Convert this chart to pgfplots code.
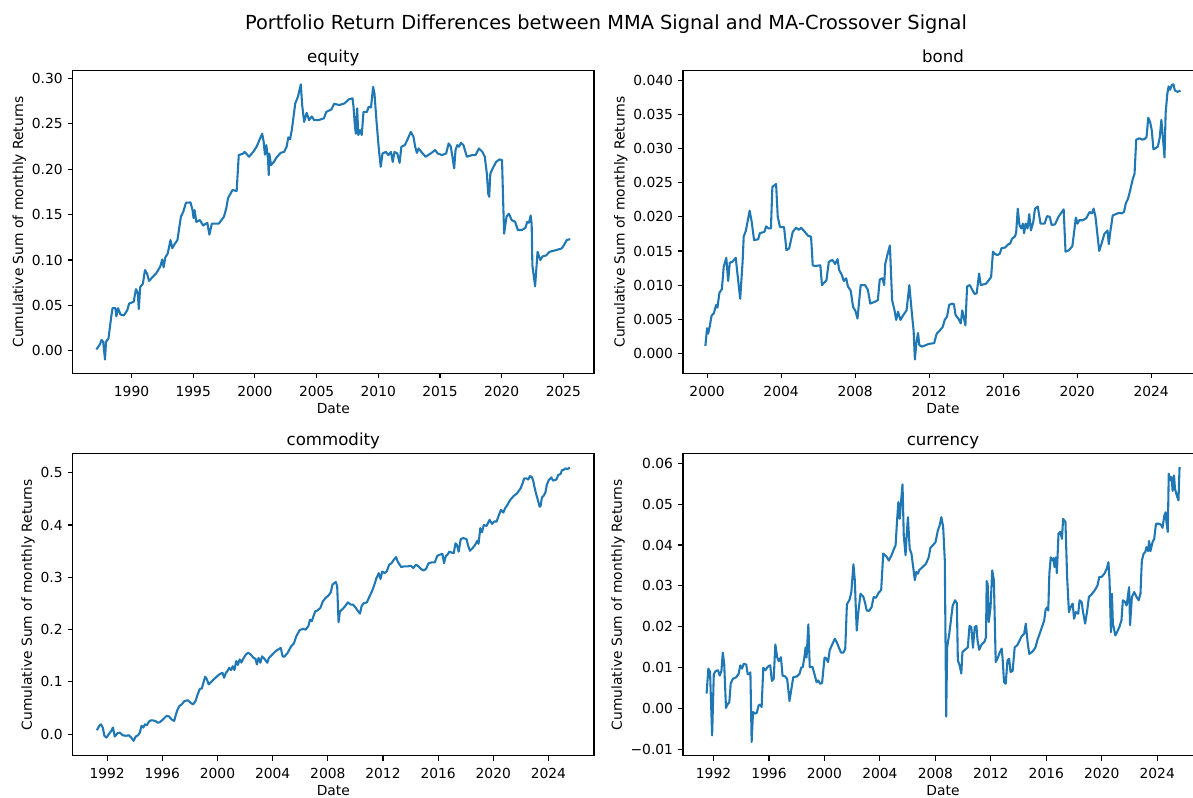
\documentclass[border=0pt]{standalone}
\usepackage{fontspec}
\setmainfont{DejaVu Sans}
\usepackage{pgfplots}
\usepackage{pgfplotstable}
\pgfplotsset{compat=1.18}
\definecolor{mplblue}{HTML}{1F77B4}

% ---------- data: cumulative sum of monthly return differences ----------
\pgfplotstableread{
year value
1987.15 0.0015
1987.43 0.007
1987.57 0.012
1987.70 0.010
1987.85 -0.0095
1987.93 0.010
1988.13 0.0136
1988.35 0.037
1988.46 0.047
1988.69 0.047
1988.77 0.038
1988.91 0.047
1989.10 0.040
1989.38 0.039
1989.66 0.045
1989.80 0.052
1990.17 0.054
1990.36 0.068
1990.50 0.064
1990.59 0.046
1990.70 0.070
1990.92 0.074
1991.09 0.089
1991.26 0.085
1991.42 0.077
1991.62 0.080
1991.98 0.085
1992.32 0.0925
1992.49 0.1006
1992.60 0.092
1992.74 0.103
1992.93 0.107
1993.16 0.122
1993.30 0.113
1993.49 0.1175
1993.72 0.122
1994.00 0.1476
1994.19 0.153
1994.41 0.163
1994.78 0.1634
1994.94 0.155
1995.03 0.146
1995.11 0.155
1995.25 0.142
1995.53 0.144
1995.81 0.138
1996.14 0.141
1996.31 0.128
1996.51 0.140
1997.07 0.140
1997.49 0.1476
1997.68 0.157
1997.82 0.168
1998.18 0.177
1998.52 0.176
1998.69 0.2155
1999.02 0.217
1999.16 0.219
1999.30 0.217
1999.53 0.2137
1999.86 0.219
2000.14 0.2247
2000.42 0.234
2000.59 0.239
2000.70 0.231
2000.81 0.216
2000.92 0.2265
2001.06 0.212
2001.12 0.1935
2001.17 0.217
2001.31 0.2045
2001.54 0.208
2001.76 0.213
2002.09 0.218
2002.37 0.219
2002.57 0.2247
2002.71 0.235
2002.85 0.233
2002.99 0.243
2003.27 0.2724
2003.49 0.280
2003.72 0.2933
2003.83 0.2705
2003.99 0.252
2004.19 0.262
2004.39 0.254
2004.61 0.258
2004.80 0.254
2005.17 0.254
2005.59 0.256
2005.78 0.263
2006.20 0.2658
2006.42 0.272
2006.84 0.2706
2007.26 0.2724
2007.63 0.277
2007.91 0.278
2007.99 0.269
2008.10 0.2485
2008.18 0.239
2008.29 0.267
2008.38 0.2376
2008.52 0.243
2008.66 0.2376
2008.80 0.263
2009.08 0.263
2009.22 0.2687
2009.41 0.268
2009.58 0.2907
2009.69 0.2834
2009.86 0.252
2010.05 0.221
2010.20 0.2026
2010.34 0.2173
2010.61 0.219
2010.81 0.2155
2011.03 0.219
2011.17 0.208
2011.31 0.219
2011.54 0.2173
2011.73 0.207
2011.87 0.2247
2012.15 0.2265
2012.37 0.2327
2012.63 0.241
2012.85 0.2357
2012.99 0.2247
2013.13 0.218
2013.27 0.2228
2013.49 0.219
2013.83 0.2137
2014.25 0.2173
2014.61 0.221
2014.81 0.2173
2015.17 0.2155
2015.50 0.2173
2015.70 0.2283
2015.87 0.225
2016.01 0.2137
2016.15 0.2008
2016.26 0.221
2016.40 0.2265
2016.54 0.2247
2016.70 0.229
2016.90 0.2265
2017.18 0.2137
2017.60 0.2155
2017.88 0.2155
2018.16 0.2228
2018.44 0.219
2018.63 0.2137
2018.80 0.195
2018.91 0.173
2018.99 0.1696
2019.08 0.195
2019.27 0.2008
2019.55 0.208
2019.83 0.2107
2020.03 0.210
2020.11 0.1696
2020.20 0.129
2020.39 0.1476
2020.59 0.151
2020.81 0.144
2021.09 0.142
2021.31 0.133
2021.65 0.133
2021.93 0.1355
2022.07 0.142
2022.21 0.141
2022.35 0.149
2022.43 0.140
2022.49 0.094
2022.71 0.071
2022.91 0.109
2023.13 0.100
2023.32 0.104
2023.60 0.105
2023.88 0.109
2024.44 0.111
2024.86 0.1127
2025.05 0.1164
2025.28 0.122
2025.56 0.123
}\equitydata

\pgfplotstableread{
year value
1999.91 0.0011
2000.00 0.0037
2000.06 0.0029
2000.15 0.0040
2000.24 0.0055
2000.37 0.0059
2000.49 0.0071
2000.56 0.0067
2000.67 0.0089
2000.80 0.0094
2000.90 0.0127
2001.04 0.0140
2001.14 0.0106
2001.23 0.0133
2001.36 0.0134
2001.55 0.0140
2001.64 0.0117
2001.79 0.0080
2001.92 0.0134
2001.98 0.0171
2002.10 0.0180
2002.30 0.0209
2002.41 0.0193
2002.54 0.0166
2002.76 0.0167
2002.85 0.0176
2003.10 0.0178
2003.19 0.0186
2003.32 0.0183
2003.45 0.0183
2003.53 0.0244
2003.64 0.0246
2003.73 0.0248
2003.82 0.0200
2003.94 0.0185
2004.16 0.0185
2004.29 0.0151
2004.44 0.0154
2004.63 0.0178
2004.81 0.0184
2004.96 0.0181
2005.09 0.0184
2005.28 0.0178
2005.47 0.0172
2005.62 0.0171
2005.71 0.0129
2005.84 0.0128
2006.12 0.0129
2006.21 0.0100
2006.45 0.0107
2006.58 0.0134
2006.77 0.0137
2006.92 0.0131
2007.05 0.0138
2007.14 0.0122
2007.28 0.0115
2007.39 0.0106
2007.52 0.0110
2007.61 0.0098
2007.76 0.0092
2007.89 0.0068
2008.02 0.0062
2008.13 0.0051
2008.30 0.0100
2008.54 0.0100
2008.69 0.0093
2008.82 0.0073
2009.10 0.0076
2009.23 0.0078
2009.33 0.0108
2009.48 0.0110
2009.57 0.0100
2009.63 0.0131
2009.76 0.0146
2009.88 0.0158
2010.00 0.0078
2010.13 0.0063
2010.22 0.0049
2010.32 0.0061
2010.45 0.0049
2010.60 0.0056
2010.78 0.0063
2010.93 0.0100
2011.06 0.0061
2011.16 0.0034
2011.23 -0.0009
2011.31 0.0015
2011.40 0.0030
2011.47 0.0012
2011.62 0.0010
2011.81 0.0012
2011.99 0.0014
2012.27 0.0015
2012.41 0.0029
2012.56 0.0033
2012.74 0.0039
2012.84 0.0049
2012.97 0.0054
2013.08 0.0071
2013.25 0.0073
2013.34 0.0072
2013.43 0.0056
2013.58 0.0051
2013.71 0.0044
2013.79 0.0063
2013.90 0.0049
2013.96 0.0041
2014.05 0.0098
2014.20 0.0100
2014.33 0.0093
2014.46 0.0087
2014.57 0.0088
2014.70 0.0117
2014.79 0.0100
2015.07 0.0102
2015.22 0.0107
2015.35 0.0112
2015.45 0.0149
2015.54 0.0146
2015.69 0.0144
2015.82 0.0146
2015.91 0.0154
2016.10 0.0155
2016.29 0.0160
2016.38 0.0161
2016.48 0.0168
2016.63 0.0171
2016.70 0.0176
2016.79 0.0212
2016.88 0.0188
2016.98 0.0183
2017.07 0.0190
2017.13 0.0176
2017.22 0.0190
2017.32 0.0183
2017.41 0.0204
2017.50 0.0180
2017.63 0.0193
2017.72 0.0212
2017.87 0.0215
2018.02 0.0190
2018.24 0.0190
2018.37 0.0201
2018.52 0.0200
2018.62 0.0188
2018.80 0.0189
2018.99 0.0200
2019.27 0.0211
2019.37 0.0149
2019.55 0.0151
2019.74 0.0157
2019.93 0.0199
2020.02 0.0190
2020.11 0.0195
2020.30 0.0195
2020.49 0.0198
2020.67 0.0207
2020.80 0.0205
2020.89 0.0212
2020.99 0.0200
2021.19 0.0150
2021.32 0.0161
2021.47 0.0175
2021.64 0.0180
2021.71 0.0160
2021.79 0.0178
2021.92 0.0202
2022.09 0.0204
2022.29 0.0206
2022.39 0.0205
2022.53 0.0207
2022.63 0.0220
2022.74 0.0226
2022.82 0.0234
2022.91 0.0244
2023.00 0.0255
2023.10 0.0263
2023.19 0.0313
2023.37 0.0315
2023.52 0.0313
2023.65 0.0314
2023.75 0.0317
2023.84 0.0345
2023.94 0.0339
2024.03 0.0327
2024.12 0.0299
2024.21 0.0300
2024.36 0.0303
2024.46 0.0316
2024.55 0.0342
2024.63 0.0317
2024.72 0.0287
2024.78 0.0352
2024.87 0.0380
2024.94 0.0391
2025.02 0.0386
2025.11 0.0393
2025.20 0.0394
2025.28 0.0385
2025.43 0.0383
2025.58 0.0385
}\bonddata

\pgfplotstableread{
year value
1991.25 0.0076
1991.43 0.016
1991.55 0.019
1991.68 0.0127
1991.80 -0.003
1991.95 -0.0064
1992.12 0.000
1992.30 0.0064
1992.42 0.0127
1992.55 -0.0045
1992.75 0.002
1992.92 0.003
1993.12 -0.002
1993.37 -0.003
1993.57 -0.002
1993.74 -0.0064
1993.92 -0.0127
1994.07 -0.0045
1994.24 -0.002
1994.37 0.003
1994.49 0.016
1994.62 0.0127
1994.74 0.019
1994.87 0.017
1995.07 0.0254
1995.24 0.0267
1995.49 0.0254
1995.67 0.022
1995.82 0.023
1996.12 0.030
1996.31 0.035
1996.49 0.034
1996.66 0.0286
1996.86 0.0254
1996.99 0.038
1997.11 0.0476
1997.24 0.054
1997.41 0.057
1997.61 0.0635
1997.86 0.0648
1998.06 0.060
1998.23 0.057
1998.41 0.0635
1998.56 0.076
1998.73 0.087
1998.86 0.087
1998.98 0.0985
1999.11 0.110
1999.23 0.105
1999.36 0.0953
1999.61 0.1017
1999.86 0.108
2000.11 0.114
2000.36 0.1175
2000.48 0.108
2000.61 0.1175
2000.73 0.121
2000.86 0.127
2000.98 0.1226
2001.11 0.130
2001.23 0.1226
2001.36 0.140
2001.48 0.1325
2001.61 0.143
2001.73 0.137
2001.86 0.144
2002.06 0.1525
2002.23 0.1557
2002.41 0.1525
2002.61 0.146
2002.76 0.144
2002.86 0.1334
2002.98 0.146
2003.11 0.1366
2003.23 0.149
2003.41 0.144
2003.61 0.1366
2003.73 0.146
2003.98 0.1525
2004.22 0.159
2004.47 0.163
2004.59 0.165
2004.72 0.149
2004.84 0.148
2005.09 0.1557
2005.34 0.168
2005.54 0.1735
2005.71 0.187
2005.96 0.199
2006.21 0.2014
2006.39 0.200
2006.59 0.2065
2006.71 0.219
2006.84 0.216
2006.96 0.2255
2007.09 0.235
2007.21 0.236
2007.46 0.2414
2007.64 0.254
2007.84 0.2605
2008.04 0.265
2008.21 0.271
2008.34 0.286
2008.58 0.291
2008.68 0.2827
2008.78 0.2141
2008.88 0.235
2009.03 0.238
2009.21 0.2433
2009.46 0.252
2009.66 0.2478
2009.83 0.2478
2010.03 0.2414
2010.20 0.235
2010.33 0.2306
2010.45 0.2446
2010.58 0.250
2010.83 0.252
2011.03 0.2637
2011.20 0.273
2011.38 0.286
2011.53 0.2986
2011.70 0.308
2011.82 0.2967
2011.95 0.311
2012.12 0.308
2012.27 0.311
2012.45 0.324
2012.62 0.327
2012.77 0.333
2012.95 0.3386
2013.07 0.330
2013.32 0.3196
2013.57 0.321
2013.82 0.321
2014.02 0.322
2014.20 0.3177
2014.39 0.324
2014.57 0.321
2014.77 0.3158
2014.94 0.313
2015.12 0.3158
2015.31 0.327
2015.56 0.3285
2015.76 0.3285
2015.94 0.341
2016.11 0.343
2016.31 0.345
2016.43 0.327
2016.56 0.341
2016.68 0.343
2016.81 0.349
2017.01 0.347
2017.13 0.346
2017.26 0.365
2017.36 0.362
2017.49 0.349
2017.64 0.373
2017.81 0.375
2018.06 0.373
2018.18 0.360
2018.31 0.3507
2018.51 0.356
2018.68 0.362
2018.85 0.370
2018.93 0.364
2019.06 0.394
2019.18 0.386
2019.31 0.400
2019.51 0.398
2019.73 0.4098
2019.91 0.402
2020.06 0.4066
2020.24 0.4066
2020.41 0.419
2020.56 0.429
2020.73 0.4238
2020.86 0.432
2020.98 0.4365
2021.23 0.448
2021.48 0.4555
2021.73 0.4606
2021.98 0.470
2022.11 0.4784
2022.24 0.489
2022.41 0.489
2022.54 0.487
2022.66 0.4936
2022.81 0.491
2022.91 0.483
2022.98 0.4733
2023.11 0.459
2023.23 0.448
2023.36 0.435
2023.43 0.436
2023.53 0.453
2023.63 0.455
2023.78 0.462
2023.88 0.4765
2024.03 0.486
2024.21 0.491
2024.33 0.4848
2024.58 0.487
2024.71 0.4955
2024.88 0.4975
2024.98 0.505
2025.08 0.505
2025.23 0.508
2025.40 0.507
2025.55 0.510
}\commoditydata

\pgfplotstableread{
year value
1991.50 0.0037
1991.63 0.0098
1991.75 0.0090
1991.90 -0.0065
1992.02 0.0084
1992.15 0.0092
1992.32 0.0094
1992.45 0.0081
1992.57 0.0092
1992.67 0.0137
1992.77 0.0110
1992.90 0.0002
1993.00 0.0010
1993.14 0.0016
1993.24 0.0061
1993.39 0.0073
1993.64 0.0077
1993.81 0.0085
1993.93 0.0106
1994.06 0.0098
1994.18 0.0110
1994.36 0.0108
1994.46 0.0085
1994.58 0.0084
1994.66 0.0089
1994.75 -0.0081
1994.85 -0.0008
1994.97 -0.0012
1995.12 -0.0010
1995.25 0.0008
1995.37 0.0010
1995.47 0.0004
1995.59 0.0100
1995.74 0.0094
1995.92 0.0103
1996.09 0.0106
1996.21 0.0068
1996.34 0.0073
1996.46 0.0157
1996.59 0.0126
1996.71 0.0116
1996.86 0.0126
1996.98 0.0081
1997.16 0.0079
1997.31 0.0073
1997.48 0.0019
1997.60 0.0045
1997.75 0.0077
1998.02 0.0079
1998.20 0.0085
1998.32 0.0100
1998.44 0.0102
1998.57 0.0130
1998.64 0.0150
1998.71 0.0125
1998.84 0.0206
1998.94 0.0102
1999.14 0.0102
1999.34 0.0077
1999.43 0.0065
1999.56 0.0069
1999.68 0.0061
1999.83 0.0063
1999.93 0.0098
2000.01 0.0125
2000.13 0.0123
2000.26 0.0114
2000.38 0.0143
2000.56 0.0157
2000.75 0.0171
2000.88 0.0163
2001.07 0.0147
2001.20 0.0137
2001.37 0.0137
2001.50 0.0147
2001.62 0.0255
2001.82 0.0267
2001.94 0.0285
2002.09 0.0353
2002.19 0.0314
2002.26 0.0248
2002.33 0.0191
2002.43 0.0232
2002.60 0.0281
2002.80 0.0274
2002.92 0.0260
2003.05 0.0240
2003.22 0.0239
2003.40 0.0248
2003.55 0.0273
2003.72 0.0271
2003.90 0.0283
2004.09 0.0290
2004.24 0.0379
2004.47 0.0372
2004.64 0.0362
2004.84 0.0375
2005.01 0.0390
2005.13 0.0399
2005.23 0.0456
2005.33 0.0505
2005.43 0.0464
2005.53 0.0509
2005.63 0.0548
2005.72 0.0423
2005.85 0.0375
2005.92 0.0419
2006.02 0.0468
2006.15 0.0390
2006.27 0.0380
2006.40 0.0346
2006.52 0.0314
2006.62 0.0334
2006.75 0.0330
2006.82 0.0338
2007.07 0.0346
2007.32 0.0354
2007.52 0.0370
2007.64 0.0393
2007.81 0.0399
2008.01 0.0407
2008.18 0.0436
2008.31 0.0448
2008.43 0.0468
2008.56 0.0445
2008.68 0.0362
2008.78 -0.0019
2008.85 0.0150
2009.00 0.0183
2009.12 0.0216
2009.25 0.0252
2009.42 0.0265
2009.55 0.0258
2009.62 0.0118
2009.75 0.0106
2009.87 0.0086
2009.95 0.0138
2010.09 0.0143
2010.24 0.0147
2010.34 0.0150
2010.46 0.0202
2010.59 0.0200
2010.71 0.0149
2010.84 0.0200
2010.96 0.0202
2011.04 0.0167
2011.16 0.0144
2011.33 0.0157
2011.53 0.0163
2011.65 0.0175
2011.70 0.0312
2011.77 0.0305
2011.85 0.0212
2011.98 0.0248
2012.10 0.0338
2012.22 0.0314
2012.35 0.0114
2012.47 0.0122
2012.65 0.0138
2012.78 0.0147
2012.85 0.0122
2012.95 0.0065
2013.07 0.0061
2013.20 0.0118
2013.32 0.0122
2013.42 0.0090
2013.57 0.0092
2013.72 0.0150
2013.90 0.0155
2014.02 0.0163
2014.22 0.0177
2014.40 0.0183
2014.52 0.0208
2014.65 0.0163
2014.77 0.0134
2014.95 0.0138
2015.10 0.0144
2015.22 0.0150
2015.35 0.0167
2015.52 0.0183
2015.70 0.0201
2015.85 0.0216
2015.95 0.0242
2016.07 0.0248
2016.14 0.0240
2016.22 0.0330
2016.32 0.0370
2016.44 0.0362
2016.52 0.0368
2016.59 0.0346
2016.69 0.0370
2016.76 0.0331
2016.88 0.0428
2017.01 0.0432
2017.13 0.0415
2017.21 0.0464
2017.38 0.0456
2017.50 0.0322
2017.63 0.0236
2017.75 0.0248
2017.90 0.0257
2018.00 0.0220
2018.13 0.0236
2018.30 0.0232
2018.40 0.0265
2018.55 0.0260
2018.65 0.0236
2018.80 0.0208
2018.95 0.0240
2019.07 0.0273
2019.30 0.0281
2019.49 0.0289
2019.69 0.0301
2019.82 0.0322
2019.99 0.0322
2020.19 0.0330
2020.36 0.0342
2020.48 0.0358
2020.56 0.0314
2020.66 0.0187
2020.73 0.0281
2020.80 0.0208
2020.98 0.0179
2021.10 0.0187
2021.27 0.0200
2021.42 0.0216
2021.52 0.0265
2021.67 0.0261
2021.79 0.0252
2021.89 0.0277
2021.97 0.0297
2022.04 0.0204
2022.17 0.0273
2022.34 0.0285
2022.51 0.0273
2022.66 0.0265
2022.79 0.0281
2022.89 0.0362
2023.02 0.0379
2023.14 0.0383
2023.22 0.0395
2023.34 0.0385
2023.41 0.0410
2023.51 0.0385
2023.66 0.0407
2023.78 0.0415
2023.91 0.0452
2024.08 0.0452
2024.26 0.0450
2024.38 0.0442
2024.51 0.0472
2024.61 0.0480
2024.66 0.0456
2024.76 0.0432
2024.83 0.0574
2024.96 0.0558
2025.03 0.0566
2025.11 0.0532
2025.21 0.0570
2025.28 0.0537
2025.41 0.0521
2025.53 0.0509
2025.61 0.0591
}\currencydata

% ---------- shared panel look ----------
\pgfplotsset{
  panel/.style={
    scale only axis,
    anchor=north west,
    axis line style={line width=0.8bp, black},
    every tick/.style={line width=0.8bp, black},
    tick align=outside,
    major tick length=3.5bp,
    xtick pos=left, ytick pos=left,
    scaled x ticks=false, scaled y ticks=false,
    /pgf/number format/assume math mode=true,
    tick label style={font=\fontsize{10}{12}\selectfont, inner sep=0pt},
    xticklabel style={yshift=-5.5bp},
    yticklabel style={xshift=-3.5bp},
    title style={font=\fontsize{12}{14.4}\selectfont, anchor=base, inner sep=0pt},
    xlabel style={font=\fontsize{10}{12}\selectfont, inner sep=0pt, yshift=-4.5bp},
    ylabel style={font=\fontsize{10}{12}\selectfont, inner sep=4bp},
    xlabel={Date},
    ylabel={Cumulative Sum of monthly Returns},
  },
  series/.style={mplblue, line width=1.5bp, line join=round, no markers},
}

\begin{document}
\begin{tikzpicture}

% equity
\begin{axis}[panel, at={(52.34bp,-50.90bp)}, width=375.3bp, height=217.8bp,
  title={equity},
  xmin=1985.23, xmax=2027.48, ymin=-0.0246, ymax=0.3084,
  xtick={1990,1995,2000,2005,2010,2015,2020,2025},
  xticklabels={1990,1995,2000,2005,2010,2015,2020,2025},
  ytick={0,0.05,0.10,0.15,0.20,0.25,0.30},
  yticklabels={0.00,0.05,0.10,0.15,0.20,0.25,0.30}]
\addplot[series] table[x=year, y=value] {\equitydata};
\end{axis}

% bond
\begin{axis}[panel, at={(491.76bp,-50.90bp)}, width=374.4bp, height=217.8bp,
  title={bond},
  xmin=1998.7, xmax=2026.8, ymin=-0.0029, ymax=0.0414,
  xtick={2000,2004,2008,2012,2016,2020,2024},
  xticklabels={2000,2004,2008,2012,2016,2020,2024},
  ytick={0,0.005,0.010,0.015,0.020,0.025,0.030,0.035,0.040},
  yticklabels={0.000,0.005,0.010,0.015,0.020,0.025,0.030,0.035,0.040}]
\addplot[series] table[x=year, y=value] {\bonddata};
\end{axis}

% commodity
\begin{axis}[panel, at={(52.34bp,-326.38bp)}, width=375.3bp, height=217.8bp,
  title={commodity},
  xmin=1989.5, xmax=2027.3, ymin=-0.0413, ymax=0.537,
  xtick={1992,1996,2000,2004,2008,2012,2016,2020,2024},
  xticklabels={1992,1996,2000,2004,2008,2012,2016,2020,2024},
  ytick={0,0.1,0.2,0.3,0.4,0.5},
  yticklabels={0.0,0.1,0.2,0.3,0.4,0.5}]
\addplot[series] table[x=year, y=value] {\commoditydata};
\end{axis}

% currency
\begin{axis}[panel, at={(491.76bp,-326.38bp)}, width=374.4bp, height=217.8bp,
  title={currency},
  xmin=1989.8, xmax=2027.3, ymin=-0.0115, ymax=0.0624,
  xtick={1992,1996,2000,2004,2008,2012,2016,2020,2024},
  xticklabels={1992,1996,2000,2004,2008,2012,2016,2020,2024},
  ytick={-0.01,0,0.01,0.02,0.03,0.04,0.05,0.06},
  yticklabels={−0.01,0.00,0.01,0.02,0.03,0.04,0.05,0.06}]
\addplot[series] table[x=year, y=value] {\currencydata};
\end{axis}

\node[font=\fontsize{14}{16.8}\selectfont, anchor=base, inner sep=0pt] at (436.3bp,-20.9bp)
  {Portfolio Return Differences between MMA Signal and MA-Crossover Signal};

\pgfresetboundingbox
\useasboundingbox (0bp,0bp) rectangle (858.96bp,-574.56bp);
\end{tikzpicture}
\end{document}
